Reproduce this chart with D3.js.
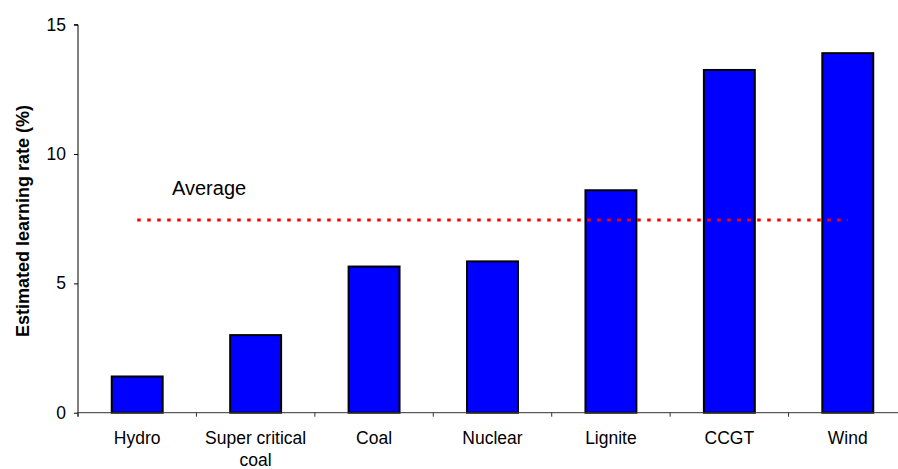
<!DOCTYPE html>
<html>
<head>
<meta charset="utf-8">
<script src="https://cdn.jsdelivr.net/npm/d3@7"></script>
<style>
  html, body { margin: 0; padding: 0; background: #fff; }
  svg { display: block; font-family: "Liberation Sans", Arial, sans-serif; }
</style>
</head>
<body>
<svg id="chart" width="898" height="469"></svg>
<script>
// Estimated learning rates by generation technology
const categories = ["Hydro", "Super critical coal", "Coal", "Nuclear", "Lignite", "CCGT", "Wind"];
const learningRates = [1.4, 3.0, 5.65, 5.85, 8.6, 13.25, 13.9];
const averageRate = 7.45;
const yTicks = [0, 5, 10, 15];

const svg = d3.select("#chart");
const plotLeft = 78, plotRight = 907, plotTop = 24.7, plotBottom = 412.7;

const x = d3.scaleBand()
  .domain(categories)
  .range([plotLeft, plotRight])
  .paddingInner(0.57)
  .paddingOuter(0.285);

const y = d3.scaleLinear().domain([0, 15]).range([plotBottom, plotTop]);

// bars
svg.append("g")
  .selectAll("rect")
  .data(categories)
  .join("rect")
  .attr("x", d => x(d))
  .attr("y", (d, i) => y(learningRates[i]))
  .attr("width", x.bandwidth())
  .attr("height", (d, i) => y(0) - y(learningRates[i]))
  .attr("fill", "#0000ff")
  .attr("stroke", "#000")
  .attr("stroke-width", 2);

// average reference line
svg.append("line")
  .attr("x1", x(categories[0]) + x.bandwidth() / 2)
  .attr("x2", x(categories[categories.length - 1]) + x.bandwidth() / 2)
  .attr("y1", y(averageRate))
  .attr("y2", y(averageRate))
  .attr("stroke", "#ff0000")
  .attr("stroke-width", 3)
  .attr("stroke-dasharray", "3.5,6.5");

svg.append("text")
  .attr("x", 172)
  .attr("y", 195)
  .attr("font-size", 20)
  .attr("fill", "#000")
  .text("Average");

// y axis
const yAxis = svg.append("g")
  .attr("transform", `translate(${plotLeft},0)`)
  .call(d3.axisLeft(y).tickValues(yTicks).tickSize(4).tickPadding(8).tickFormat(d3.format("d")));
yAxis.select(".domain").attr("stroke", "#000").attr("d", `M-4,${plotTop}H0V${plotBottom + 4}`);
yAxis.selectAll(".tick line").attr("stroke", "#000");
yAxis.selectAll(".tick text")
  .attr("font-size", 17.5)
  .attr("font-family", "Liberation Sans, Arial, sans-serif")
  .attr("fill", "#000");

// x axis baseline with ticks between categories
const step = x.step();
const boundaries = d3.range(categories.length + 1).map(i => plotLeft + i * step);
svg.append("line")
  .attr("x1", plotLeft).attr("x2", plotRight)
  .attr("y1", y(0)).attr("y2", y(0))
  .attr("stroke", "#333").attr("stroke-width", 1);
svg.append("g")
  .selectAll("line")
  .data(boundaries)
  .join("line")
  .attr("x1", d => d).attr("x2", d => d)
  .attr("y1", y(0)).attr("y2", y(0) + 4)
  .attr("stroke", "#333");

// category labels
const labelLines = {
  "Super critical coal": ["Super critical", "coal"]
};
svg.append("g")
  .selectAll("text")
  .data(categories)
  .join("text")
  .attr("x", d => x(d) + x.bandwidth() / 2)
  .attr("y", 444)
  .attr("text-anchor", "middle")
  .attr("font-size", 17.5)
  .attr("fill", "#000")
  .each(function (d) {
    const lines = labelLines[d] || [d];
    const t = d3.select(this);
    lines.forEach((ln, i) => {
      t.append("tspan")
        .attr("x", x(d) + x.bandwidth() / 2)
        .attr("dy", i === 0 ? 0 : 22)
        .text(ln);
    });
  });

// y axis title
svg.append("text")
  .attr("transform", `translate(29,221) rotate(-90)`)
  .attr("text-anchor", "middle")
  .attr("font-size", 18)
  .attr("font-weight", "bold")
  .attr("fill", "#000")
  .text("Estimated learning rate (%)");
</script>
</body>
</html>
